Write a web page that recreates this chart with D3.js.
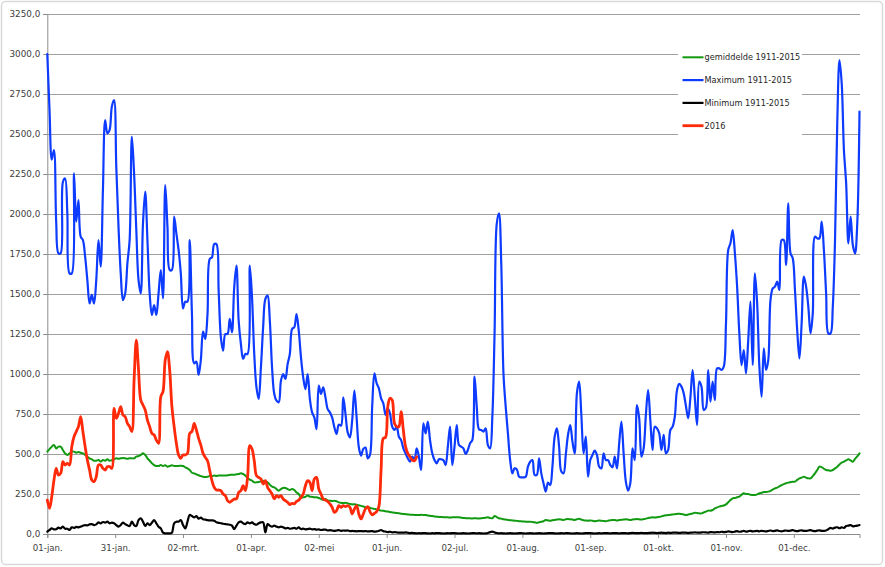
<!DOCTYPE html>
<html><head><meta charset="utf-8">
<script src="https://cdn.jsdelivr.net/npm/d3@7/dist/d3.min.js"></script>
<style>
html,body{margin:0;padding:0;background:#fff;}
svg{display:block;font-family:"DejaVu Sans",Verdana,sans-serif;}
</style></head><body>
<svg id="chart" width="885" height="567"></svg>
<script>
// ---- data ----
const xLabels = ["01-jan.","31-jan.","02-mrt.","01-apr.","02-mei","01-jun.","02-jul.","01-aug.","01-sep.","01-okt.","01-nov.","01-dec."];
const yTicks = [0,250,500,750,1000,1250,1500,1750,2000,2250,2500,2750,3000,3250];
const seriesNames = ["gemiddelde 1911-2015","Maximum 1911-2015","Minimum 1911-2015","2016"];

const maximum = [
3000,2650,2340,2400,1950,1755,1755,2200,2222,2004,1629,1629,2254,1952,2087,1858,1837,1733,1587,1441,
1494,1441,1587,1837,1671,2150,2587,2504,2525,2671,2712,2296,1921,1629,1462,1504,1692,1837,2483,2254,
1900,1587,1504,1942,2140,1837,1504,1369,1431,1369,1504,1650,1473,2181,1921,1650,1650,1983,1879,1775,
1629,1410,1452,1452,1837,1379,1067,1077,994,1088,1265,1220,1375,1719,1729,1812,1812,1521,1229,1146,
1250,1250,1344,1260,1542,1677,1333,1187,1094,1125,1125,1677,1479,1125,917,844,1042,1292,1469,1490,
1333,1042,875,833,823,958,1000,969,1062,1125,1281,1292,1375,1271,1104,979,906,1000,844,760,
729,656,927,875,917,854,781,760,729,667,625,683,677,854,750,635,604,708,896,729,
542,490,531,540,473,494,796,1004,942,910,848,817,744,785,754,671,650,671,608,587,
535,504,473,452,483,462,535,483,400,692,629,702,587,504,462,442,467,467,462,431,
546,671,431,546,681,556,546,535,500,525,567,587,983,796,654,650,640,660,556,535,
733,1254,1942,2004,1692,1004,796,629,462,379,410,404,358,354,354,358,421,452,462,369,
369,473,379,317,265,321,306,421,608,660,546,390,379,494,619,681,577,504,879,952,
744,504,608,358,462,494,521,494,421,410,504,462,462,431,417,483,410,567,702,504,
327,271,317,535,462,806,723,483,535,744,900,712,525,671,660,629,525,619,504,525,
650,671,733,900,938,921,879,800,723,850,1025,850,681,952,920,775,790,1025,827,952,
837,1035,1035,1025,1046,1317,1775,1817,1900,1754,1546,1254,1056,1150,1004,1212,1452,1056,1629,1442,
1046,858,1160,1025,1087,1462,1535,1546,1577,1525,1837,1837,1681,2067,1754,1723,1525,1275,1098,1317,
1608,1546,1421,1254,1379,1858,1848,1848,1952,1775,1504,1254,1254,1421,1837,2567,2962,2817,2400,2192,
1817,1983,1806,1754,1942,2640
];

const gemiddelde = [
515,530,546,556,535,546,546,525,504,494,504,515,515,508,512,508,504,494,483,473,
467,458,458,462,452,462,458,467,458,462,467,473,470,473,475,473,470,473,473,473,
483,487,494,504,494,473,458,442,431,425,425,431,425,429,421,425,429,425,425,425,
427,425,417,410,400,383,379,373,367,362,358,356,358,362,362,365,363,365,365,366,
365,367,369,371,371,373,375,379,375,365,350,340,333,323,323,325,329,333,329,323,
308,296,292,281,271,281,288,288,281,275,281,275,260,250,229,229,233,240,233,233,
229,229,225,219,212,219,210,208,206,208,205,198,195,193,195,192,188,185,186,183,
180,176,172,168,166,164,160,157,154,150,146,145,142,140,137,135,133,131,129,127,
125,124,122,121,120,119,119,118,120,119,119,116,114,112,110,108,107,106,105,104,
104,103,104,105,104,104,102,100,99,98,98,97,99,98,97,98,100,102,104,100,
98,112,106,98,96,92,90,88,86,85,83,82,80,79,78,77,76,77,75,73,
71,73,76,80,87,85,83,86,88,90,92,90,88,92,94,92,90,88,92,95,
90,86,84,83,85,83,80,82,84,83,81,80,83,86,88,87,85,87,89,90,
92,90,88,90,92,94,92,90,93,96,100,102,104,103,104,107,110,114,117,119,
120,122,124,125,127,125,122,119,122,125,128,133,131,129,129,135,140,146,146,150,
160,166,171,175,178,185,198,212,223,225,230,233,245,254,250,250,245,244,244,248,
255,258,262,262,265,270,278,285,290,298,306,312,317,321,324,327,327,338,348,352,
358,352,348,348,362,379,400,421,418,408,400,398,396,400,410,421,435,446,452,460,
467,460,452,470,485,504
];

const minimum = [
15,25,35,29,30,40,35,46,33,33,25,42,38,44,42,46,52,56,54,60,
62,56,60,73,67,75,71,77,67,71,67,56,46,56,71,62,54,50,77,56,
50,87,98,77,50,67,56,71,87,67,46,35,8,4,4,4,8,67,77,77,
87,56,35,77,119,112,104,112,96,102,92,90,87,85,85,83,73,70,67,64,
62,60,58,52,31,52,73,77,67,62,73,67,73,62,58,67,73,73,10,62,
52,46,52,46,42,46,42,35,38,33,35,38,33,42,31,33,29,31,33,29,
31,27,29,25,27,27,22,24,22,20,22,24,20,22,21,22,18,19,18,17,
18,18,17,18,16,17,18,15,16,20,25,18,15,12,14,10,12,10,8,9,
8,10,8,6,7,5,4,5,4,6,5,4,3,5,4,6,5,4,3,4,
5,4,6,5,4,3,4,5,4,3,4,6,5,4,5,4,3,4,6,12,
15,10,6,4,5,4,3,4,5,4,3,4,5,6,4,3,4,5,4,3,
4,5,4,3,4,5,6,5,4,3,4,5,4,5,6,4,3,4,5,4,
3,4,5,6,5,4,3,4,5,4,5,6,5,4,5,6,5,4,5,6,
5,4,6,7,6,5,6,7,6,5,6,7,8,7,6,7,8,7,6,8,
7,8,9,8,7,8,9,8,7,8,9,10,9,8,10,11,10,9,12,11,
10,12,11,14,12,13,16,14,12,15,18,14,16,19,15,17,20,16,18,19,
17,20,18,16,19,22,18,20,23,19,17,20,22,19,21,24,20,18,21,23,
20,19,22,24,20,18,21,23,20,19,22,30,38,34,40,42,36,42,38,50,
52,56,48,50,52,56
];

const jaar2016 = [
212,160,233,337,410,369,379,452,431,442,431,546,608,640,671,733,640,546,462,400,
337,327,358,431,431,410,400,421,421,410,785,723,754,796,744,733,692,671,640,962,
1212,1025,837,806,775,712,671,629,619,587,567,858,890,1087,1140,1025,796,671,567,494,
473,494,494,504,629,640,692,650,598,556,504,479,458,396,333,292,275,275,271,250,
240,208,198,208,219,219,260,271,302,271,354,552,531,458,365,354,344,312,333,292,
271,250,219,240,229,240,219,208,198,183,192,188,204,212,229,250,302,333,323,271,
344,354,281,250,219,212,204,188,167,135,146,177,167,177,171,177,167,125,156,177,
125,94,125,158,171,140,119,129,140,171,400,598,604,796,848,837,692,671,671,765,
650,546,504,483,462,458,483
];

// ---- chart ----
const svg = d3.select("#chart");
const W = 885, H = 567;
const plot = {left: 47.3, right: 859.5, top: 14, bottom: 534};
const nDays = maximum.length; // 366

const x = d3.scaleLinear().domain([0, nDays - 1]).range([plot.left, plot.right]);
const y = d3.scaleLinear().domain([0, 3250]).range([plot.bottom, plot.top]);

// outer border
svg.append("rect").attr("x", 1.5).attr("y", 1.5).attr("width", W - 4).attr("height", H - 4)
  .attr("rx", 4).attr("fill", "#fff").attr("stroke", "#d9d9d9").attr("stroke-width", 1.5);

// gridlines
svg.append("g").selectAll("line").data(yTicks.filter(d => d > 0)).join("line")
  .attr("x1", plot.left).attr("x2", plot.right + 0.5)
  .attr("y1", d => Math.round(y(d)) + 0.5).attr("y2", d => Math.round(y(d)) + 0.5)
  .attr("stroke", "#a0a0a0").attr("stroke-width", 1);

// y axis
const yAxis = svg.append("g").attr("transform", `translate(${plot.left},0)`)
  .call(d3.axisLeft(y).tickValues(yTicks).tickSize(4).tickPadding(3)
    .tickFormat(d => d3.format(".1f")(d).replace(".", ",")));
yAxis.select(".domain").attr("stroke", "#8c8c8c");
yAxis.selectAll(".tick line").attr("stroke", "#8c8c8c");
yAxis.selectAll("text").attr("font-size", 8.8).attr("fill", "#404040")
  .attr("font-family", "DejaVu Sans, Verdana, sans-serif");

// x axis
const tickIdx = xLabels.map((d, k) => k * nDays / xLabels.length);
const xAxis = svg.append("g").attr("transform", `translate(0,${plot.bottom})`)
  .call(d3.axisBottom(x).tickValues(tickIdx).tickSize(4).tickPadding(7)
    .tickFormat((d, i) => xLabels[i]));
xAxis.select(".domain").attr("stroke", "#8c8c8c");
xAxis.selectAll(".tick line").attr("stroke", "#8c8c8c");
xAxis.selectAll("text").attr("font-size", 8.6).attr("fill", "#404040")
  .attr("font-family", "DejaVu Sans, Verdana, sans-serif");

// series
const series = [
  {name: seriesNames[0], values: gemiddelde, color: "#119a11", width: 2},
  {name: seriesNames[1], values: maximum, color: "#0d3bff", width: 2.2},
  {name: seriesNames[2], values: minimum, color: "#000000", width: 2.2},
  {name: seriesNames[3], values: jaar2016, color: "#ff2a0a", width: 2.8}
];
const line = d3.line().x((d, i) => x(i)).y(d => y(d)).curve(d3.curveCatmullRom.alpha(0.5));
svg.append("g").selectAll("path").data(series).join("path")
  .attr("d", s => line(s.values))
  .attr("fill", "none").attr("stroke", s => s.color).attr("stroke-width", s => s.width)
  .attr("stroke-linejoin", "round").attr("stroke-linecap", "round");

// legend
const lg = svg.append("g");
lg.append("rect").attr("x", 678).attr("y", 45).attr("width", 124).attr("height", 92).attr("fill", "#fff");
const rows = lg.selectAll("g").data(series).join("g")
  .attr("transform", (s, i) => `translate(682.5,${57.3 + i * 22.8})`);
rows.append("line").attr("x1", 0).attr("x2", 21).attr("stroke", s => s.color).attr("stroke-width", s => s.width);
rows.append("text").attr("x", 22).attr("dy", "0.35em").attr("font-size", 8.2).attr("fill", "#262626")
  .text(s => s.name);
</script>
</body></html>
